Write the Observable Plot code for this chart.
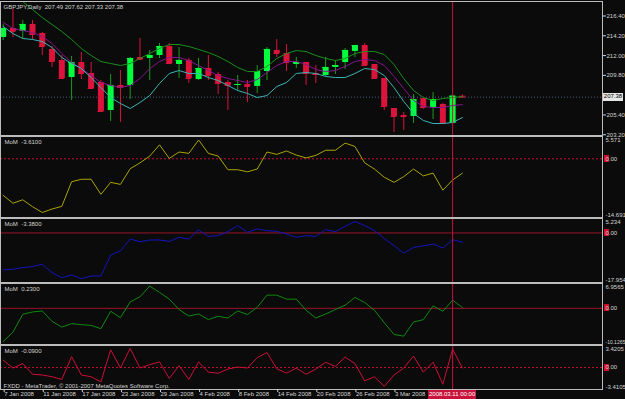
<!DOCTYPE html>
<html><head><meta charset="utf-8">
<script src="https://cdn.jsdelivr.net/npm/d3@7"></script>
<script src="https://cdn.jsdelivr.net/npm/@observablehq/plot@0.6"></script>
<style>
html,body{margin:0;padding:0;background:#0a0b0a;}
#chart{position:relative;width:625px;height:399px;background:#0a0b0a;overflow:hidden;font-family:"Liberation Sans",Arial,sans-serif;}
#chart svg{position:absolute;left:0;overflow:visible;}
.box{position:absolute;font:6px "Liberation Sans",Arial,sans-serif;line-height:1;white-space:nowrap;text-align:center;box-sizing:border-box;}
</style></head><body><div id="chart"></div>
<script>
// ---- data ----
const symbolTitle = "GBPJPY,Daily\u00a0\u00a0207.49 207.62 207.33 207.38";
const copyright = "FXDD - MetaTrader, \u00a9 2001-2007 MetaQuotes Software Corp.";
const open  = [214.01,215.01,214.68,215.46,214.46,212.68,211.46,209.57,211.23,210.01,209.01,205.90,208.68,208.68,211.79,211.68,212.01,213.01,211.01,211.46,209.34,210.57,209.90,209.01,208.68,208.79,208.57,210.23,212.57,212.23,211.01,211.23,210.01,209.79,210.68,211.23,212.46,213.12,211.01,209.46,206.12,205.34,205.23,207.23,206.23,206.57,204.46,207.49];
const high  = [215.46,217.12,215.90,215.90,214.57,213.01,212.01,211.90,212.34,211.23,209.23,209.90,210.34,211.79,213.90,212.57,213.34,213.34,212.90,211.68,211.68,212.01,210.12,209.23,209.79,209.23,210.90,212.90,213.79,213.23,211.79,211.23,210.90,211.79,211.46,212.79,213.12,213.34,211.01,209.46,206.12,205.68,207.68,207.23,207.90,206.68,207.55,207.62];
const low   = [213.68,214.01,213.79,213.68,212.01,210.68,209.34,207.01,209.34,208.23,205.68,204.68,204.57,207.12,211.46,209.23,211.68,211.01,209.46,208.90,209.23,209.23,207.68,205.90,208.12,206.79,207.79,209.23,211.79,210.23,210.57,208.68,208.90,209.68,209.90,210.46,211.79,210.79,209.34,205.90,203.46,203.68,204.46,206.01,204.90,204.35,204.40,207.33];
const close = [215.01,214.68,215.46,214.35,213.01,211.34,209.46,211.23,210.01,208.34,205.79,208.68,208.46,211.68,211.57,212.01,213.01,211.12,211.46,209.46,210.57,209.79,208.90,208.68,208.79,208.57,210.23,212.68,212.23,211.23,211.23,210.01,209.90,210.68,210.90,212.57,213.12,210.90,209.46,206.34,205.23,205.23,207.12,206.23,207.12,204.46,207.49,207.38];
const maSlow = [219.01,218.56,218.01,217.12,216.23,215.45,214.68,213.79,212.79,212.01,211.34,211.12,210.90,211.12,211.68,212.23,212.79,213.23,213.23,213.01,212.68,212.34,211.90,211.34,210.68,210.23,210.23,210.79,211.68,212.23,212.56,212.45,212.01,211.68,211.45,211.68,212.23,212.45,212.45,212.12,211.01,209.45,208.12,207.34,207.01,207.23,207.34,207.45];
const maMid  = [215.68,215.01,214.79,214.56,214.12,213.34,212.23,211.23,210.56,209.79,209.01,208.68,208.45,208.68,209.45,210.56,211.34,211.79,211.79,211.45,210.90,210.34,209.79,209.45,209.23,209.01,209.34,210.12,210.90,211.34,211.34,211.01,210.45,210.23,210.34,210.79,211.34,211.56,211.45,210.90,209.68,208.34,207.01,206.34,206.23,206.23,206.45,206.56];
const maFast = [215.23,214.45,213.90,213.79,213.56,212.90,211.79,211.12,210.56,209.56,208.45,207.34,206.68,206.12,206.79,207.56,208.90,210.01,210.34,210.01,210.01,209.56,209.23,208.68,208.12,207.79,207.34,207.56,208.56,209.01,210.01,210.12,210.01,209.68,209.56,209.56,210.01,210.56,210.45,209.79,208.45,206.90,205.56,204.79,204.45,204.45,204.56,205.12];
const mom1 = [-9.16,-11.13,-10.26,-11.98,-13.44,-12.57,-11.90,-5.75,-5.13,-5.13,-8.90,-5.90,-6.41,-2.49,-1.03,0.67,3.49,0.08,1.69,1.36,4.69,1.36,0.67,-2.74,-2.74,-3.26,-2.57,1.69,1.10,1.95,0.92,0.21,0.85,2.13,2.13,3.92,3.08,-1.03,-2.57,-4.62,-5.90,-4.46,-2.57,-4.28,-3.59,-7.87,-5.31,-3.61];
const mom2 = [-13.40,-13.15,-12.56,-12.20,-11.32,-14.39,-16.21,-15.23,-16.58,-15.59,-15.59,-8.03,-6.46,-2.19,-3.18,-2.56,-2.56,-3.07,-1.61,-2.19,1.10,-1.24,-0.99,0.47,2.67,0.22,1.46,0.84,0.58,-0.37,-1.61,-0.99,-1.24,1.21,0.47,2.41,4.13,2.67,0.84,-1.97,-4.64,-7.30,-5.26,-4.64,-4.02,-5.48,-2.45,-3.38];
const mom3 = [-9.29,-6.66,-1.67,-1.02,-0.73,-3.64,-5.25,-4.29,-4.57,-4.77,-5.70,-0.82,-2.60,1.81,3.22,6.24,4.46,2.57,-0.34,-2.15,-1.58,-3.16,-2.23,-2.71,-0.73,-1.75,0.31,3.70,3.70,2.57,2.57,-0.54,-2.71,-1.58,-0.34,0.88,3.05,1.64,-0.54,-4.01,-7.31,-7.79,-3.84,-3.16,0.68,-0.82,2.29,0.23];
const mom4 = [1.14,-0.08,0.61,-1.04,-1.16,-1.43,-1.85,1.69,-1.16,-1.43,-2.23,2.75,-0.08,2.97,-0.08,0.45,0.88,-1.69,0.29,-1.85,0.88,-0.72,-0.88,-0.24,0.08,-0.08,1.53,2.33,-0.19,-0.88,-0.08,-1.04,-0.24,0.82,0.18,1.62,0.61,-2.07,-1.43,-2.92,-1.16,-0.08,1.78,-0.72,0.82,-2.60,2.86,-0.09];
const momTitles = ["MoM\u00a0\u00a0-3.6100","MoM\u00a0\u00a0-3.3800","MoM\u00a0\u00a00.2300","MoM\u00a0\u00a0-0.0900"];
const momMax = ["5.571","5.234","6.9565","3.4205"];
const momMin = ["-14.691","-17.954","-10.1265","-3.4105"];
const xTickIdx = [0,4,8,12,16,20,24,28,32,36,40];
const xTickLabels = ["7 Jan 2008","11 Jan 2008","17 Jan 2008","23 Jan 2008","29 Jan 2008","4 Feb 2008","8 Feb 2008","14 Feb 2008","20 Feb 2008","26 Feb 2008","3 Mar 2008"];
const priceTicks = [216.40,214.20,212.00,209.80,205.40,203.20];
const bidPrice = 207.38;
const cursorIdx = 46;
const cursorLabel = "2008.03.11 00:00";

// ---- styling ----
const TXT = "#d4d4d4", FRAME = "#bcbcbc", CROSS = "#cc1040";
const FONT = "Liberation Sans, Arial, sans-serif";
const X_DOMAIN = [-0.276, 61.34];
const chart = document.getElementById("chart");
const idx = d3.range(open.length);
const candles = idx.map(i => ({i, o: open[i], h: high[i], l: low[i], c: close[i], up: close[i] >= open[i]}));

function place(plot, top) { plot.style.top = top + "px"; chart.appendChild(plot); return plot; }
function box(left, top, w, h, bg, color, text, behind) {
  const d = document.createElement("div");
  d.className = "box";
  Object.assign(d.style, {left: left + "px", top: top + "px", width: w + "px", height: h + "px", background: bg, color: color, lineHeight: h + "px"});
  d.textContent = text || "";
  if (behind) chart.insertBefore(d, chart.firstChild); else chart.appendChild(d);
  return d;
}
const common = {
  width: 625, marginLeft: 0, marginRight: 23, marginTop: 0,
  color: {type: "identity"},
  style: {background: "transparent", color: TXT, fontFamily: FONT, fontSize: "6px", overflow: "visible"}
};

// ---- main price panel ----
const mainTop = 1;
const main = Plot.plot({
  ...common, height: 134, marginBottom: 0,
  x: {domain: X_DOMAIN, axis: null},
  y: {domain: [203.12, 218.01]},
  marks: [
    Plot.ruleY([bidPrice], {stroke: "#4e5c80", strokeDasharray: "1,2"}),
    Plot.ruleX(candles, {x: "i", y1: "l", y2: "h", stroke: d => d.up ? "#1f9a1f" : "#dc143c"}),
    Plot.ruleX(candles, {x: "i", y1: "o", y2: "c", strokeWidth: 6, stroke: d => d.up ? "#00ff3c" : "#dc143c"}),
    Plot.ruleY(candles, {y: "c", x1: d => d.i - 0.3, x2: d => d.i + 0.3, stroke: d => d.up ? "#00ff3c" : "#dc143c"}),
    Plot.line(idx, {x: i => i, y: i => maSlow[i], stroke: "#1a8f1a", strokeWidth: 1, clip: true}),
    Plot.line(idx, {x: i => i, y: i => maMid[i], stroke: "#84158f", strokeWidth: 1, clip: true}),
    Plot.line(idx, {x: i => i, y: i => maFast[i], stroke: "#3ab4b4", strokeWidth: 1, clip: true}),
    Plot.ruleX([cursorIdx], {stroke: CROSS}),
    Plot.axisY({anchor: "right", ticks: priceTicks, tickSize: 3, tickPadding: 1, tickFormat: d => d.toFixed(2), fontSize: 6}),
    Plot.text([symbolTitle], {text: d => d, frameAnchor: "top-left", dx: 3, dy: 3, lineAnchor: "top", fill: TXT, fontSize: 6}),
    Plot.frame({stroke: FRAME})
  ]
});
place(main, mainTop);
const yMain = main.scale("y");
box(603, mainTop + yMain.apply(bidPrice) - 3.5, 20, 7.5, "#e6e6e6", "#000", bidPrice.toFixed(2));

// ---- MoM panels ----
const panels = [
  {vals: mom1, top: 136, h: 81, color: "#aca400", dash: "2,2", zero: "#c01030"},
  {vals: mom2, top: 218, h: 64, color: "#1414c0", dash: null, zero: "#9a1428"},
  {vals: mom3, top: 283, h: 61, color: "#0e8a0e", dash: null, zero: "#9a1428"},
  {vals: mom4, top: 345, h: 44, color: "#cc1038", dash: "2,2", zero: "#c01030"}
];
panels.forEach((p, k) => {
  const last = k === panels.length - 1;
  const dom = [+momMin[k], +momMax[k]];
  const minSize = momMin[k].length > 7 ? 5 : 6;
  const marks = [
    Plot.ruleY([0], {stroke: p.zero, strokeDasharray: p.dash}),
    Plot.line(idx, {x: i => i, y: i => p.vals[i], stroke: p.color, strokeWidth: 1, clip: true}),
    Plot.ruleX([cursorIdx], {stroke: CROSS}),
    Plot.text([momTitles[k]], {text: d => d, frameAnchor: "top-left", dx: 4, dy: 3, lineAnchor: "top", fill: TXT, fontSize: 6}),
    Plot.text([momMax[k]], {text: d => d, frameAnchor: "top-right", dx: 3, dy: 1, textAnchor: "start", lineAnchor: "top", fill: TXT, fontSize: 6}),
    Plot.text([momMin[k]], {text: d => d, frameAnchor: "bottom-right", dx: 3, dy: -1, textAnchor: "start", lineAnchor: "bottom", fill: TXT, fontSize: minSize}),
    Plot.text(["0.00"], {text: d => d, y: [0], frameAnchor: "right", dx: 3, textAnchor: "start", fill: TXT, fontSize: 6}),
    Plot.frame({stroke: FRAME})
  ];
  if (last) {
    marks.push(Plot.text([copyright], {text: d => d, frameAnchor: "bottom-left", dx: 3, dy: -2, lineAnchor: "bottom", fill: TXT, fontSize: 6}));
    marks.push(Plot.axisX({ticks: xTickIdx, tickSize: 3, tickPadding: -1, textAnchor: "start", dx: 1,
      tickFormat: d => xTickLabels[xTickIdx.indexOf(d)], fontSize: 6}));
  }
  const plot = Plot.plot({
    ...common, height: p.h + (last ? 10 : 0), marginBottom: last ? 10 : 0,
    x: last ? {domain: X_DOMAIN} : {domain: X_DOMAIN, axis: null},
    y: {domain: dom, axis: null},
    marks
  });
  place(plot, p.top);
  const y0 = p.top + plot.scale("y").apply(0);
  box(604, y0 - 3.5, 4.5, 7, "#d0102a", "#fff", "", true);
  if (last) {
    const xc = plot.scale("x").apply(cursorIdx);
    box(xc - 24, p.top + p.h + 0.5, 48, 9.5, "#c8143c", "#fff", cursorLabel);
  }
});
</script>
</body></html>
